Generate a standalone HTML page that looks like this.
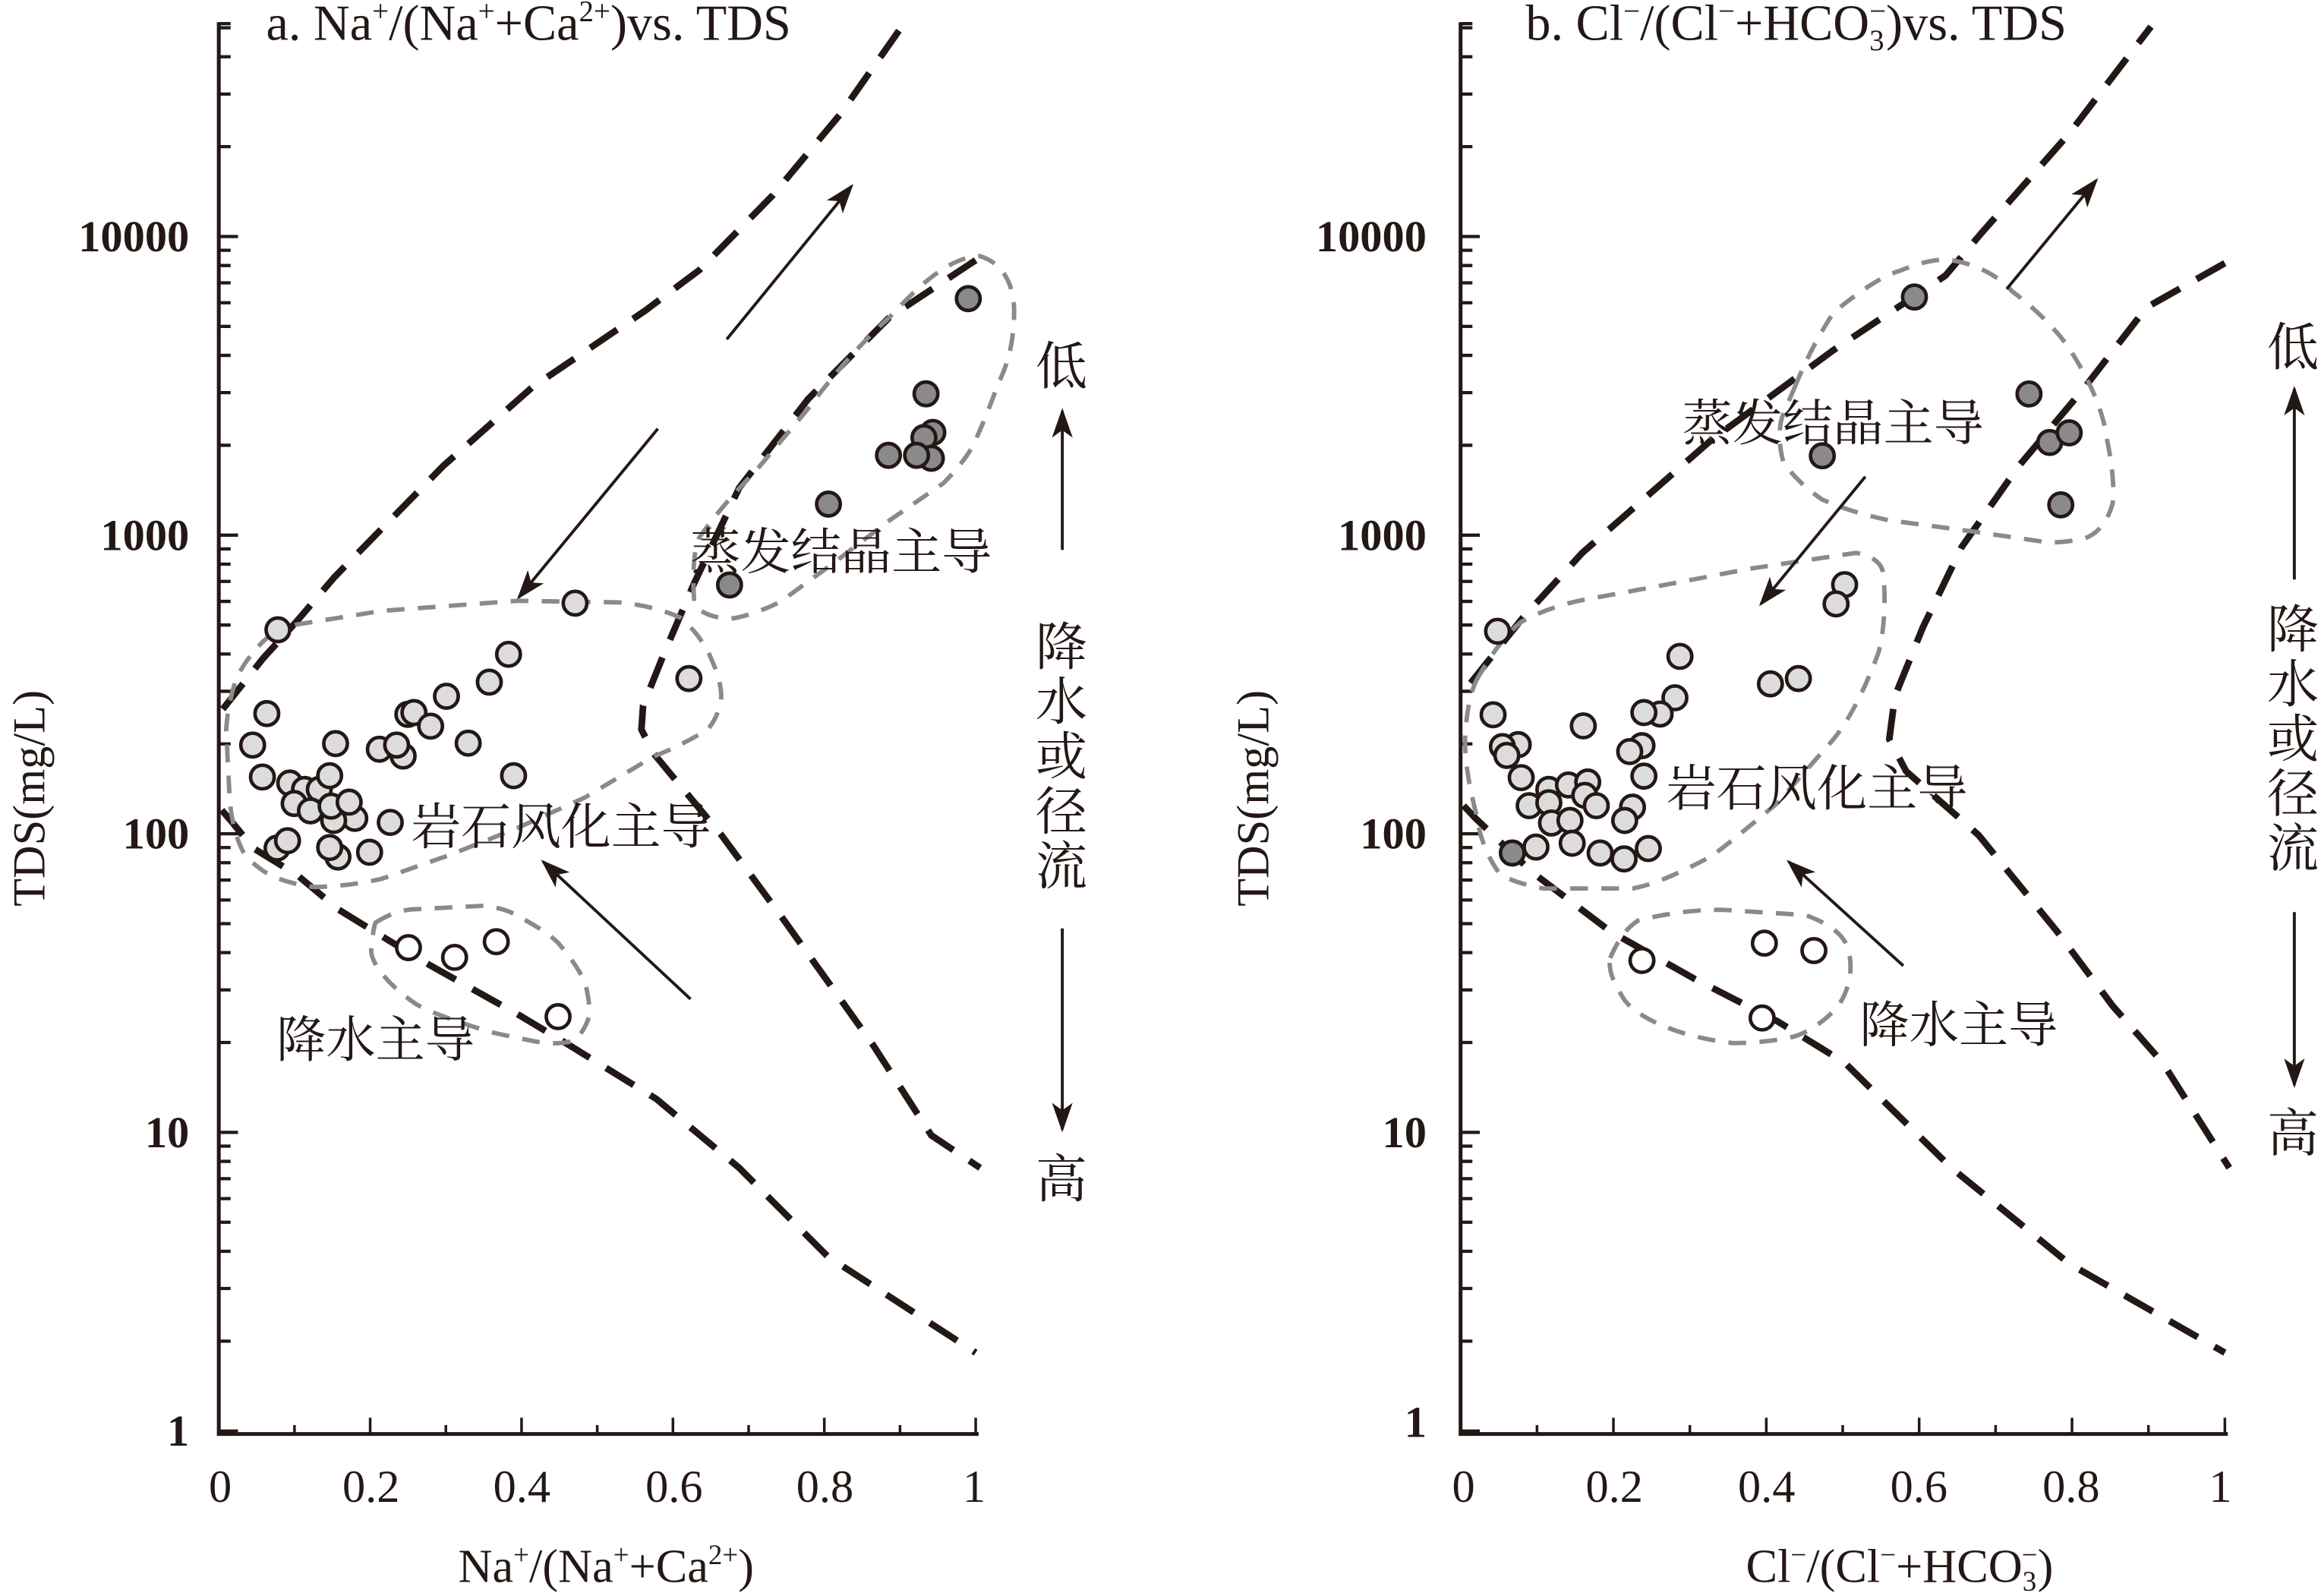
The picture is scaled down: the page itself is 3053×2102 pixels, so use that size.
<!DOCTYPE html>
<html><head><meta charset="utf-8"><style>
html,body{margin:0;padding:0;background:#fff;}
svg{display:block;}
text{font-family:"Liberation Serif","Noto Serif CJK SC",serif;fill:#231815;}
.cn{font-family:"Liberation Serif","Noto Serif CJK SC","Noto Sans CJK SC",serif;}
</style></head><body>
<svg width="3053" height="2102" viewBox="0 0 1568 1079.6" preserveAspectRatio="none" xmlns="http://www.w3.org/2000/svg">
<defs>
<g id="dec" stroke="#231815" stroke-width="2.2">
<path d="M0,0h13 M0,-60.8h8 M0,-96.4h8 M0,-121.6h8 M0,-141.2h8 M0,-157.2h8 M0,-170.7h8 M0,-182.4h8 M0,-192.7h8"/>
</g>
<g id="topdec" stroke="#231815" stroke-width="2.2">
<path d="M0,0h13 M0,-60.8h8 M0,-96.4h8 M0,-121.6h8 M0,-141.2h8"/>
</g>
<marker id="ah" viewBox="0 0 20 14" refX="18" refY="7" markerWidth="20" markerHeight="14" markerUnits="userSpaceOnUse" orient="auto">
<path d="M0,0 L20,7 L0,14 L5,7 Z" fill="#231815"/>
</marker>
</defs>
<rect width="1568" height="1079.6" fill="#fff"/>

<!-- ============ LEFT PANEL ============ -->
<g>
<path d="M148,15 V970 H662" fill="none" stroke="#231815" stroke-width="2.6"/>
<use href="#dec" x="148" y="968"/><use href="#dec" x="148" y="766"/><use href="#dec" x="148" y="564"/><use href="#dec" x="148" y="362"/><use href="#topdec" x="148" y="160"/>
<path d="M148,16h8" stroke="#231815" stroke-width="2.2"/>
<path d="M199.2,970v-6 M250.4,970v-11 M301.6,970v-6 M352.8,970v-11 M404,970v-6 M455.2,970v-11 M506.4,970v-6 M557.6,970v-11 M608.8,970v-6 M660,970v-11" stroke="#231815" stroke-width="1.8"/>
<g font-size="30" text-anchor="end" font-weight="bold">
<text x="128" y="978">1</text><text x="128" y="776">10</text><text x="128" y="574">100</text><text x="128" y="372">1000</text><text x="128" y="170">10000</text>
</g>
<g font-size="31" text-anchor="middle">
<text x="149" y="1016">0</text><text x="251" y="1016">0.2</text><text x="353" y="1016">0.4</text><text x="456" y="1016">0.6</text><text x="558" y="1016">0.8</text><text x="659" y="1016">1</text>
</g>
<text x="410" y="1070" font-size="32" text-anchor="middle">Na<tspan font-size="19" dy="-12">+</tspan><tspan dy="12">/(Na</tspan><tspan font-size="19" dy="-12">+</tspan><tspan dy="12">+Ca</tspan><tspan font-size="19" dy="-12">2+</tspan><tspan dy="12">)</tspan></text>
<text x="180" y="27" font-size="34">a. Na<tspan font-size="20" dy="-13">+</tspan><tspan dy="13">/(Na</tspan><tspan font-size="20" dy="-13">+</tspan><tspan dy="13">+Ca</tspan><tspan font-size="20" dy="-13">2+</tspan><tspan dy="13">)vs. TDS</tspan></text>
<text transform="translate(30,540) rotate(-90)" font-size="31" text-anchor="middle">TDS(mg/L)</text>

<g fill="none" stroke="#231815" stroke-width="4.5" stroke-dasharray="22 13">
<path d="M150.7,479.7 L178,445.3 L201,420 L226.3,390.3 L300,315 L360,262 L436.6,210 L473.3,182.5 L522.8,132 L568.6,77 L610,18"/>
<path d="M150,548 L156.4,555.4 L171.3,573.7 L201.1,592 L228.6,615 L258.5,633.4 L290.6,652.8 L350,686 L384.6,706.7 L444,743.4 L500,790 L560,850 L660,915"/>
<path d="M660,176 L601.7,214.6 L546.6,270 L500,330 L469.4,394.9 L448.8,443 L435,477.4 L433.9,493.5 L442,509.5 L453.4,523.3 L487.8,564.6 L530,622 L590,706 L630,768 L663,790"/>
</g>
<g fill="none" stroke="#8a8a8a" stroke-width="3" stroke-dasharray="12 9">
<path d="M180.5,431.6 C190,425 201,422.4 201,422.4 L258.4,413.2 L350.2,406.4 L419,407.5 C445,410 460,417.8 460.2,417.8 C475,430 481,445 480.9,445.3 C488,460 488,470 487.8,472.8 C486,485 480,492 478.6,493.5 C460,505 441.9,511.8 441.9,511.8 L396,539.3 L350.2,560 L304.3,578.3 L258.4,594.4 C235,600 212.6,600 212.6,600 C195,598 182.8,592 182.8,592 C170,585 164.4,576 164.4,576 C156,560 155.3,539.3 155.3,539.3 L153,493.5 C154,475 159.9,459 159.9,459 C168,442 180.5,431.6 180.5,431.6 Z"/>
<path d="M662,173 C680,178 686,195 686,210 C686,235 680,250 675,260 C668,280 660,298 656.7,304 C650,315 640,325 638,327 L601.7,352 L565,380 L528,407 C510,416 495,419 491.6,418.6 C478,417 470,412 469.6,407 C468,385 470,370 473,363.6 C490,340 505,325 510,320 L546.6,276.5 C570,245 590,225 601.7,214.6 C620,195 640,175 662,173 Z"/>
<path d="M253.9,624.2 C265,617 275,615 281.4,615 L327.2,612.7 C340,614 348,618 350.2,619.6 C362,626 372,632 377.7,638 C388,650 394,660 396,665.5 C399,678 399,685 398.3,688.4 C395,698 390,703 386.9,704.4 C375,707 365,705 361.6,704.4 C340,700 330,698 322.7,695.3 C300,688 290,684 281.4,679.2 C268,670 262,663 258.4,658.6 C252,650 250,645 251.6,640.2 C252,632 253,627 253.9,624.2 Z"/>
</g>
<g stroke="#231815" stroke-width="2" fill="none" marker-end="url(#ah)">
<path d="M491.6,229.5 L576,126"/>
<path d="M445,290 L351,404"/>
<path d="M467.1,675.8 L367.4,582.9"/>
<path d="M718.6,372 L718.6,278"/>
<path d="M718.6,628 L718.6,764"/>
</g>
<g class="cn" font-size="35" text-anchor="middle">
<text x="718" y="260">低</text>
<text x="718" y="450">降</text><text x="718" y="487">水</text><text x="718" y="524">或</text><text x="718" y="561">径</text><text x="718" y="598">流</text>
<text x="718" y="810">高</text>
</g>
<g class="cn" font-size="33.5">
<text x="467" y="385" textLength="204" lengthAdjust="spacingAndGlyphs">蒸发结晶主导</text>
<text x="278" y="571" textLength="203" lengthAdjust="spacingAndGlyphs">岩石风化主导</text>
<text x="187" y="715" textLength="134" lengthAdjust="spacingAndGlyphs">降水主导</text>
</g>
<g stroke="#231815" stroke-width="2.4" fill="#dcdcdc">
<circle cx="188" cy="426" r="8"/><circle cx="180.5" cy="482.7" r="8"/><circle cx="170.9" cy="504" r="8"/><circle cx="177.5" cy="525.6" r="8"/><circle cx="196" cy="529.7" r="8"/><circle cx="206" cy="534" r="8"/><circle cx="216" cy="534" r="8"/><circle cx="223" cy="524.7" r="8"/><circle cx="227" cy="503" r="8"/><circle cx="199" cy="543.5" r="8"/><circle cx="210" cy="548.5" r="8"/><circle cx="240" cy="553.6" r="8"/><circle cx="225.7" cy="555" r="8"/><circle cx="224" cy="545.3" r="8"/><circle cx="236.2" cy="542.6" r="8"/><circle cx="187.4" cy="573.7" r="8"/><circle cx="194.5" cy="568.7" r="8"/><circle cx="228.6" cy="579.7" r="8"/><circle cx="223" cy="573.3" r="8"/><circle cx="250" cy="576.5" r="8"/><circle cx="264" cy="556.3" r="8"/><circle cx="272.7" cy="511.4" r="8"/><circle cx="256.6" cy="506.8" r="8"/><circle cx="268.3" cy="504" r="8"/><circle cx="275.9" cy="483.2" r="8"/><circle cx="280" cy="482" r="8"/><circle cx="291.3" cy="491.2" r="8"/><circle cx="302" cy="471" r="8"/><circle cx="316.7" cy="502.7" r="8"/><circle cx="331" cy="461.4" r="8"/><circle cx="344" cy="442.6" r="8"/><circle cx="347.4" cy="524.7" r="8"/><circle cx="389" cy="408" r="8"/><circle cx="466" cy="459" r="8"/>
</g>
<g stroke="#231815" stroke-width="2.4" fill="#fff">
<circle cx="276.3" cy="641" r="8"/><circle cx="307.5" cy="647.6" r="8"/><circle cx="335.7" cy="637" r="8"/><circle cx="377.5" cy="687.7" r="8"/>
</g>
<g stroke="#231815" stroke-width="2.4" fill="#8a8a8a">
<circle cx="655" cy="202" r="8"/><circle cx="626.4" cy="266.4" r="8"/><circle cx="631" cy="292.5" r="8"/><circle cx="625" cy="296" r="8"/><circle cx="630" cy="310" r="8"/><circle cx="601" cy="308" r="8"/><circle cx="620" cy="308" r="8"/><circle cx="560.4" cy="341" r="8"/><circle cx="493.5" cy="395.7" r="8"/>
</g>
</g>

<!-- ============ RIGHT PANEL ============ -->
<g>
<path d="M988,15 V970 H1507" fill="none" stroke="#231815" stroke-width="2.6"/>
<use href="#dec" x="988" y="968"/><use href="#dec" x="988" y="766"/><use href="#dec" x="988" y="564"/><use href="#dec" x="988" y="362"/><use href="#topdec" x="988" y="160"/>
<path d="M988,16h8" stroke="#231815" stroke-width="2.2"/>
<path d="M1039.7,970v-6 M1091.4,970v-11 M1143.1,970v-6 M1194.8,970v-11 M1246.5,970v-6 M1298.2,970v-11 M1349.9,970v-6 M1401.6,970v-11 M1453.3,970v-6 M1505,970v-11" stroke="#231815" stroke-width="1.8"/>
<g font-size="30" text-anchor="end" font-weight="bold">
<text x="965" y="972">1</text><text x="965" y="776">10</text><text x="965" y="574">100</text><text x="965" y="372">1000</text><text x="965" y="170">10000</text>
</g>
<g font-size="31" text-anchor="middle">
<text x="990" y="1016">0</text><text x="1092" y="1016">0.2</text><text x="1195" y="1016">0.4</text><text x="1298" y="1016">0.6</text><text x="1401" y="1016">0.8</text><text x="1502" y="1016">1</text>
</g>
<text x="1285" y="1070" font-size="32" text-anchor="middle">Cl<tspan font-size="19" dy="-12">−</tspan><tspan dy="12">/(Cl</tspan><tspan font-size="19" dy="-12">−</tspan><tspan dy="12">+HCO</tspan><tspan font-size="19" dy="6">3</tspan><tspan font-size="19" dx="-10" dy="-18">−</tspan><tspan dy="12">)</tspan></text>
<text x="1032" y="27" font-size="34">b. Cl<tspan font-size="20" dy="-13">−</tspan><tspan dy="13">/(Cl</tspan><tspan font-size="20" dy="-13">−</tspan><tspan dy="13">+HCO</tspan><tspan font-size="20" dy="7">3</tspan><tspan font-size="20" dx="-10" dy="-20">−</tspan><tspan dy="13">)vs. TDS</tspan></text>
<text transform="translate(858,540) rotate(-90)" font-size="31" text-anchor="middle">TDS(mg/L)</text>

<g fill="none" stroke="#231815" stroke-width="4.5" stroke-dasharray="22 13">
<path d="M994.8,462 L1030,418 L1070.3,374 L1157.2,298 L1240,237 L1316,186.4 L1340.4,157.6 L1400,90 L1455,18"/>
<path d="M990,545 L998.6,554 L1036.4,590 L1089.3,630 L1146,662 L1202.6,691 L1248,719 L1320,790 L1400,855 L1505,915"/>
<path d="M1505,178 L1452,208 L1410.2,262 L1365,316 L1327,370 L1300.7,424.4 L1281.8,471 L1278,500 L1289.4,521.7 L1338.5,565 L1391.4,630 L1429,680.3 L1463,719 L1508,790"/>
</g>
<g fill="none" stroke="#8a8a8a" stroke-width="3" stroke-dasharray="12 9">
<path d="M1214,262 C1225,235 1235,220 1240,211.7 C1260,195 1275,186 1285.6,183 C1300,177 1310,175.6 1316,175.6 C1340,178 1355,190 1361,197 C1385,215 1398,232 1402.7,240.5 C1418,265 1424,285 1425.4,298 C1430,320 1430,335 1429,341 C1424,358 1414,364 1406.5,365 C1395,367 1388,367 1384,366.7 L1334.7,359.5 L1278,352 C1250,346 1238,340 1232.7,338 C1218,328 1210,318 1206.3,312.6 C1203,300 1203,288 1206.3,280 Z"/>
<path d="M998.6,460.4 C1010,440 1020,428 1028.8,420.8 C1045,412 1060,408 1070,406 L1127,395.5 L1183.6,384.7 L1255.4,374 C1268,376 1273,382 1274,388 C1276,410 1274,430 1270.5,442 C1260,470 1250,488 1240.3,500 L1202.5,543 C1180,562 1165,574 1157.2,579.4 C1130,594 1115,599 1104.3,601 L1044,601 C1028,598 1018,594 1013.7,590 C1003,575 1000,560 998.6,550.6 C992,525 991,510 991,500 C992,480 995,468 998.6,460.4 Z"/>
<path d="M1089.2,648 C1095,635 1100,628 1108,622.7 C1130,617 1150,615.4 1164.8,615.4 L1221.4,619 C1235,624 1244,630 1248,637 C1252,645 1252,652 1251.6,658.7 C1250,670 1246,678 1240.3,684 C1230,694 1220,700 1210,702 C1195,705 1180,705.6 1172.3,705.6 C1150,703 1135,698 1127,694.7 C1110,688 1100,680 1096.8,673 C1090,662 1088,655 1089.2,648 Z"/>
</g>
<g stroke="#231815" stroke-width="2" fill="none" marker-end="url(#ah)">
<path d="M1357.4,195.5 L1418,122"/>
<path d="M1261.8,322.4 L1191.2,408.5"/>
<path d="M1287.5,653.3 L1210,583"/>
<path d="M1552,392 L1552,263"/>
<path d="M1552,617 L1552,734"/>
</g>
<g class="cn" font-size="35" text-anchor="middle">
<text x="1551" y="247">低</text>
<text x="1551" y="438">降</text><text x="1551" y="475">水</text><text x="1551" y="512">或</text><text x="1551" y="549">径</text><text x="1551" y="586">流</text>
<text x="1551" y="779">高</text>
</g>
<g class="cn" font-size="33.5">
<text x="1138" y="298" textLength="204" lengthAdjust="spacingAndGlyphs">蒸发结晶主导</text>
<text x="1127" y="545" textLength="204" lengthAdjust="spacingAndGlyphs">岩石风化主导</text>
<text x="1258" y="705" textLength="134" lengthAdjust="spacingAndGlyphs">降水主导</text>
</g>
<g stroke="#231815" stroke-width="2.4" fill="#dcdcdc">
<circle cx="1013" cy="427" r="8"/><circle cx="1136.4" cy="444" r="8"/><circle cx="1133" cy="472" r="8"/><circle cx="1123" cy="483" r="8"/><circle cx="1112" cy="482" r="8"/><circle cx="1197.6" cy="462.6" r="8"/><circle cx="1216.5" cy="459" r="8"/><circle cx="1247.8" cy="395.5" r="8"/><circle cx="1242" cy="408.5" r="8"/><circle cx="1010" cy="483.5" r="8"/><circle cx="1071" cy="491" r="8"/><circle cx="1027" cy="503.7" r="8"/><circle cx="1016.3" cy="505" r="8"/><circle cx="1019.3" cy="511" r="8"/><circle cx="1110.7" cy="504.4" r="8"/><circle cx="1102.4" cy="508.4" r="8"/><circle cx="1029" cy="526" r="8"/><circle cx="1112" cy="525" r="8"/><circle cx="1047.7" cy="534" r="8"/><circle cx="1061" cy="531" r="8"/><circle cx="1074" cy="529" r="8"/><circle cx="1072" cy="538" r="8"/><circle cx="1034.4" cy="545" r="8"/><circle cx="1047.7" cy="543" r="8"/><circle cx="1079.8" cy="545" r="8"/><circle cx="1104.3" cy="546" r="8"/><circle cx="1049.5" cy="556.7" r="8"/><circle cx="1062" cy="555" r="8"/><circle cx="1099" cy="555" r="8"/><circle cx="1039" cy="573" r="8"/><circle cx="1063.5" cy="570.4" r="8"/><circle cx="1082.4" cy="577" r="8"/><circle cx="1098.6" cy="581" r="8"/><circle cx="1115" cy="574" r="8"/>
</g>
<g stroke="#231815" stroke-width="2.4" fill="#fff">
<circle cx="1110.7" cy="649.7" r="8"/><circle cx="1193.5" cy="638" r="8"/><circle cx="1227" cy="643" r="8"/><circle cx="1192" cy="688.6" r="8"/>
</g>
<g stroke="#231815" stroke-width="2.4" fill="#8a8a8a">
<circle cx="1295" cy="200.9" r="8"/><circle cx="1372.5" cy="266.5" r="8"/><circle cx="1386.5" cy="299.3" r="8"/><circle cx="1399.7" cy="292.8" r="8"/><circle cx="1394" cy="341.5" r="8"/><circle cx="1232.7" cy="308.3" r="8"/><circle cx="1023" cy="577" r="8"/>
</g>
</g>
</svg>
</body></html>
